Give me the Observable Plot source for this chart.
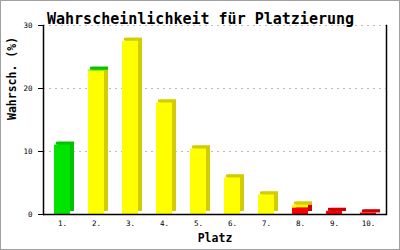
<!DOCTYPE html>
<html><head><meta charset="utf-8">
<script src="https://cdn.jsdelivr.net/npm/d3@7"></script>
<script src="https://cdn.jsdelivr.net/npm/@observablehq/plot@0.6"></script>
<style>
html,body{margin:0;padding:0;background:#fff;}
#chart svg{display:block;outline:1px solid #a0a0a0;outline-offset:-1px;}
</style></head><body><div id="chart"></div>
<script>
const titleText = "Wahrscheinlichkeit für Platzierung";
const xTitle = "Platz";
const yTitle = "Wahrsch. (%)";
const places = ["1.","2.","3.","4.","5.","6.","7.","8.","9.","10."];
const seriesNames = ["rot","gelb","grün"];
const redValues    = [0, 0, 0, 0, 0, 0, 0, 1.05, 0.5, 0.25];
const yellowValues = [0, 22.8, 27.5, 17.7, 10.4, 5.8, 3.1, 0.45, 0, 0];
const greenValues  = [11.0, 0.1, 0, 0, 0, 0, 0, 0, 0, 0];
const yTicks = [0, 10, 20, 30];
const frontColors = {"rot":"#ff0000","gelb":"#ffff00","grün":"#00e400"};
const darkColors  = {"rot":"#cc0000","gelb":"#d2cc00","grün":"#00c400"};

const seriesValues = [redValues, yellowValues, greenValues];
const segments = [];
const tops = [];
places.forEach((p, i) => {
  let base = 0, topSeries = null;
  seriesNames.forEach((s, k) => {
    const v = seriesValues[k][i];
    if (v > 0) { segments.push({place: p, series: s, y1: base, y2: base + v}); base += v; topSeries = s; }
  });
  tops.push({place: p, series: topSeries, total: base});
});

const font = "'DejaVu Sans Mono', monospace";
const chart = Plot.plot({
  width: 400, height: 250,
  marginLeft: 43, marginRight: 14, marginTop: 25, marginBottom: 36,
  style: {fontFamily: font, background: "#fff", color: "#000"},
  x: {domain: places, paddingInner: 0.53, paddingOuter: 0.28, label: null, axis: null},
  y: {domain: [0, 30], label: null, axis: null},
  color: {type: "identity"},
  marks: [
    Plot.ruleY(yTicks.filter(t => t > 0), {stroke: "#bbbbbb", strokeDasharray: "2,4"}),
    Plot.barY(segments, {x: "place", y1: "y1", y2: "y2", dx: 4, dy: -3, fill: d => darkColors[d.series]}),
    Plot.barY(tops, {x: "place", y1: "total", y2: "total", insetTop: -3, insetLeft: 2, insetRight: -4, fill: d => darkColors[d.series]}),
    Plot.barY(segments, {x: "place", y1: "y1", y2: "y2", fill: d => frontColors[d.series]}),
    Plot.axisY({ticks: yTicks, tickSize: 5, tickPadding: 6, fontSize: 7.5, label: null, stroke: "#000"}),
    Plot.axisX({tickSize: 0, tickPadding: 6, fontSize: 7.5, label: null}),
    Plot.frame({anchor: "left", stroke: "#000", strokeWidth: 1.5}),
    Plot.frame({anchor: "right", stroke: "#000", strokeWidth: 1.5}),
    Plot.ruleY([0], {stroke: "#000", strokeWidth: 1.5}),
    Plot.text([titleText], {frameAnchor: "top", dy: -12, dx: -14.5, text: d => d, fontSize: 15, fontWeight: "bold"}),
    Plot.text([xTitle], {frameAnchor: "bottom", dy: 27, text: d => d, fontSize: 11.5, fontWeight: "bold"}),
    Plot.text([yTitle], {frameAnchor: "left", dx: -31, rotate: -90, text: d => d, fontSize: 11.5, fontWeight: "bold"})
  ]
});
document.getElementById("chart").appendChild(chart);
</script></body></html>
